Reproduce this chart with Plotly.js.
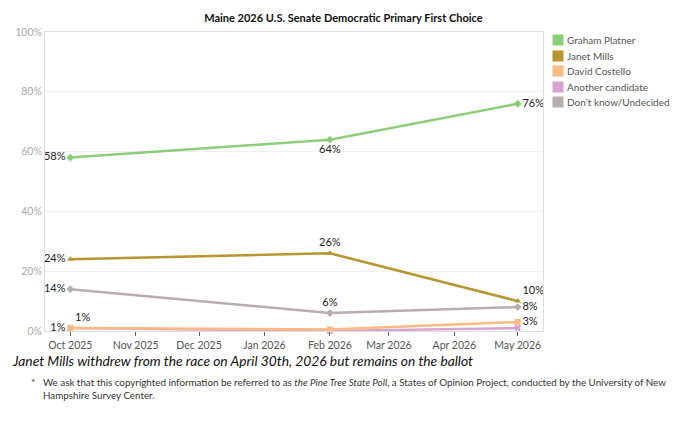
<!DOCTYPE html>
<html>
<head>
<meta charset="utf-8">
<script src="https://cdn.plot.ly/plotly-3.0.1.min.js"></script>
<style>html,body{margin:0;padding:0;background:#fff;}#chart{width:680px;height:425px;}</style>
</head>
<body>
<div id="chart"></div>
<script>
// ---- data ----
const dates = ["2025-10-01", "2026-02-01", "2026-05-01"];
const seriesNames = ["Graham Platner", "Janet Mills", "David Costello", "Another candidate", "Don\u2019t know/Undecided"];
const platner = [58, 64, 76];
const mills = [24, 26, 10];
const costello = [1, 0.5, 3];
const another = [1, 0, 1];
const undecided = [14, 6, 8];
const colors = ["#8BCF78", "#B8962E", "#FDBA82", "#D9A3D1", "#B9ADAD"];
const symbols = ["diamond", "triangle-up", "square", "x", "diamond"];
const tickVals = ["2025-10-01","2025-11-01","2025-12-01","2026-01-01","2026-02-01","2026-03-01","2026-04-01","2026-05-01"];
const tickText = ["Oct 2025","Nov 2025","Dec 2025","Jan 2026","Feb 2026","Mar 2026","Apr 2026","May 2026"];
const yTicks = [0, 20, 40, 60, 80, 100];
// which points get labels, and where
const labelShow = [[1,1,1],[1,1,1],[1,0,1],[1,0,0],[1,1,1]];
const labelPos = [
  ["middle left","bottom center","middle right"],
  ["middle left","top center","top right"],
  ["middle left","top center","middle right"],
  ["top right","top center","top right"],
  ["middle left","top center","middle right"]
];
// drawing order (Costello drawn over Another candidate)
const drawOrder = [0, 1, 4, 3, 2];

const allValues = [platner, mills, costello, another, undecided];
const font = "Lato, 'Open Sans', sans-serif";

const traces = drawOrder.map(i => {
  const vals = allValues[i];
  return {
    type: "scatter",
    mode: "lines+markers+text",
    x: dates,
    y: vals,
    name: seriesNames[i],
    showlegend: false,
    line: {color: colors[i], width: 2.5},
    marker: {color: colors[i], symbol: symbols[i], size: 6},
    text: vals.map((v, j) => labelShow[i][j] ? Math.round(v) + "%" : ""),
    textposition: labelPos[i],
    textfont: {family: font, size: 11, color: "#222"},
    cliponaxis: false,
    hoverinfo: "skip"
  };
});

// legend built as annotations (square swatch + name)
const legendTop = 0.973, legendStep = 0.0518;
const legendAnns = [];
seriesNames.forEach((n, i) => {
  const yy = legendTop - i * legendStep;
  legendAnns.push({
    xref: "paper", yref: "paper", x: 1.0181, y: yy, xanchor: "left", yanchor: "middle",
    text: " ", width: 10, height: 10, bgcolor: colors[i], borderpad: 0, showarrow: false
  });
  legendAnns.push({
    xref: "paper", yref: "paper", x: 1.044, y: yy, xanchor: "left", yanchor: "middle",
    text: n, showarrow: false, font: {family: font, size: 10, color: "#555"}
  });
});

const layout = {
  width: 680,
  height: 425,
  margin: {l: 45, r: 137, t: 32, b: 94},
  paper_bgcolor: "#fff",
  plot_bgcolor: "#fff",
  font: {family: font, size: 11, color: "#555"},
  showlegend: false,
  title: {
    text: "<b>Maine 2026 U.S. Senate Democratic Primary First Choice</b>",
    font: {family: font, size: 11, color: "#111"},
    x: 0.505, xanchor: "center", y: 0.958, yanchor: "middle"
  },
  xaxis: {
    type: "date",
    range: ["2025-09-19", "2026-05-13"],
    tickvals: tickVals,
    ticktext: tickText,
    ticks: "outside",
    ticklen: 4,
    tickcolor: "#666",
    tickfont: {family: font, size: 10.5, color: "#555"},
    showgrid: false,
    showline: true,
    linecolor: "#ddd",
    mirror: true,
    zeroline: false
  },
  yaxis: {
    range: [0, 100],
    tickvals: yTicks,
    ticktext: yTicks.map(v => v + "%"),
    tickfont: {family: font, size: 10.5, color: "#aaa"},
    showgrid: true,
    gridcolor: "#f0f0f0",
    showline: true,
    linecolor: "#ddd",
    mirror: true,
    zeroline: false,
    ticks: ""
  },
  annotations: legendAnns.concat([
    {
      xref: "paper", yref: "paper", x: -0.07, y: -0.1, xanchor: "left", yanchor: "middle",
      text: "<i>Janet Mills withdrew from the race on April 30th, 2026 but remains on the ballot</i>",
      showarrow: false, font: {family: font, size: 13.8, color: "#111"}
    },
    {
      xref: "paper", yref: "paper", x: -0.033, y: -0.171, xanchor: "left", yanchor: "middle",
      text: "*",
      showarrow: false, font: {family: font, size: 10, color: "#333"}
    },
    {
      xref: "paper", yref: "paper", x: -0.008, y: -0.192, xanchor: "left", yanchor: "middle", align: "left",
      text: "We ask that this copyrighted information be referred to as <i>the Pine Tree State Poll</i>, a States of Opinion Project, conducted by the University of New<br>Hampshire Survey Center.",
      showarrow: false, font: {family: font, size: 9.8, color: "#333"}
    }
  ])
};

Plotly.newPlot("chart", traces, layout, {displayModeBar: false, staticPlot: true});
</script>
</body>
</html>
